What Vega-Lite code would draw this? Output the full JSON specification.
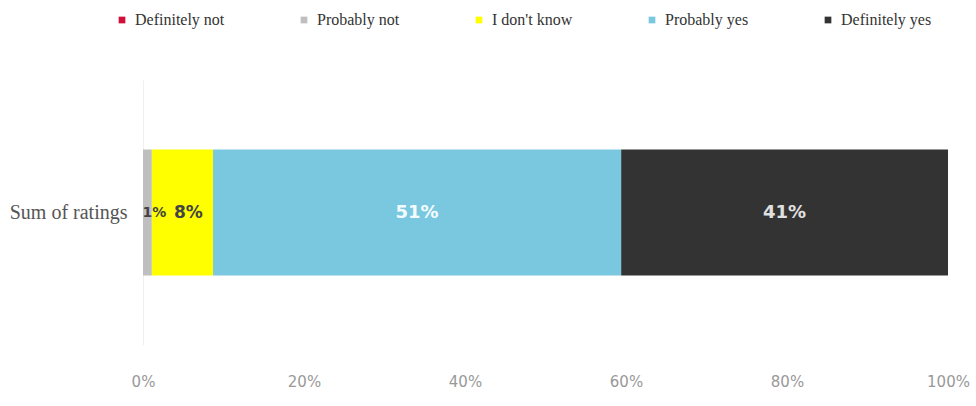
{
  "$schema": "https://vega.github.io/schema/vega-lite/v6.json",
  "width": 805,
  "height": 265,
  "autosize": {"type": "none"},
  "padding": {"left": 143, "top": 80, "right": 28, "bottom": 61},
  "background": "white",
  "config": {"view": {"stroke": null}},
  "data": {
    "values": [
      {"group": "Sum of ratings", "rating": "Definitely not", "order": 1, "share": 0.0},
      {"group": "Sum of ratings", "rating": "Probably not", "order": 2, "share": 0.011},
      {"group": "Sum of ratings", "rating": "I don't know", "order": 3, "share": 0.076},
      {"group": "Sum of ratings", "rating": "Probably yes", "order": 4, "share": 0.507},
      {"group": "Sum of ratings", "rating": "Definitely yes", "order": 5, "share": 0.406}
    ]
  },
  "transform": [
    {"stack": "share", "groupby": ["group"], "sort": [{"field": "order", "order": "ascending"}], "as": ["s0", "s1"]},
    {"calculate": "(datum.s0 + datum.s1) / 2", "as": "mid"}
  ],
  "encoding": {
    "y": {
      "field": "group", "type": "nominal",
      "scale": {"paddingInner": 0, "paddingOuter": 0.55},
      "axis": {"title": null, "ticks": false, "domain": true, "domainColor": "#f0f0f0", "labelFont": "Liberation Serif", "labelFontSize": 20, "labelColor": "#555", "labelPadding": 16}
    }
  },
  "layer": [
    {
      "mark": {"type": "bar"},
      "encoding": {
        "x": {
          "field": "s0", "type": "quantitative",
          "scale": {"domain": [0, 1], "nice": false},
          "axis": {"title": null, "format": ".0%", "values": [0, 0.2, 0.4, 0.6, 0.8, 1], "grid": false, "ticks": false, "domain": false, "labelFont": "DejaVu Sans", "labelFontSize": 15, "labelColor": "#999999", "labelPadding": 29, "labelFlush": false}
        },
        "x2": {"field": "s1"},
        "color": {
          "field": "rating", "type": "nominal",
          "scale": {
            "domain": ["Definitely not", "Probably not", "I don't know", "Probably yes", "Definitely yes"],
            "range": ["#d0103a", "#bfbfbf", "#ffff00", "#7ac8e0", "#333333"]
          },
          "legend": {
            "title": null, "orient": "none", "direction": "horizontal", "columns": 5,
            "gridAlign": "none", "columnPadding": 71,
            "legendX": -29, "legendY": -68,
            "symbolType": "square", "symbolSize": 45, "symbolStrokeWidth": 0, "symbolOffset": 0,
            "labelFont": "Liberation Serif", "labelFontSize": 16, "labelColor": "#333", "labelOffset": 5
          }
        }
      }
    },
    {
      "transform": [{"filter": "datum.rating == 'Probably yes' || datum.rating == 'Definitely yes'"}],
      "mark": {"type": "text", "font": "DejaVu Sans", "fontSize": 18, "fontWeight": "bold"},
      "encoding": {
        "x": {"field": "mid", "type": "quantitative"},
        "text": {"field": "share", "type": "quantitative", "format": ".0%"},
        "color": {
          "field": "rating", "type": "nominal", "legend": null,
          "scale": {"domain": ["Probably yes", "Definitely yes"], "range": ["#f4fbff", "#e0e0e0"]}
        }
      }
    },
    {
      "transform": [{"filter": "datum.rating == 'I don\\'t know'"}],
      "mark": {"type": "text", "font": "DejaVu Sans", "fontSize": 17, "fontWeight": "bold", "dx": 6, "color": "#444444"},
      "encoding": {
        "x": {"field": "mid", "type": "quantitative"},
        "text": {"field": "share", "type": "quantitative", "format": ".0%"}
      }
    },
    {
      "transform": [{"filter": "datum.rating == 'Probably not'"}],
      "mark": {"type": "text", "font": "DejaVu Sans", "fontSize": 14, "fontWeight": "bold", "dx": 7, "color": "#444444"},
      "encoding": {
        "x": {"field": "mid", "type": "quantitative"},
        "text": {"field": "share", "type": "quantitative", "format": ".0%"}
      }
    }
  ],
  "resolve": {"scale": {"color": "independent"}}
}
